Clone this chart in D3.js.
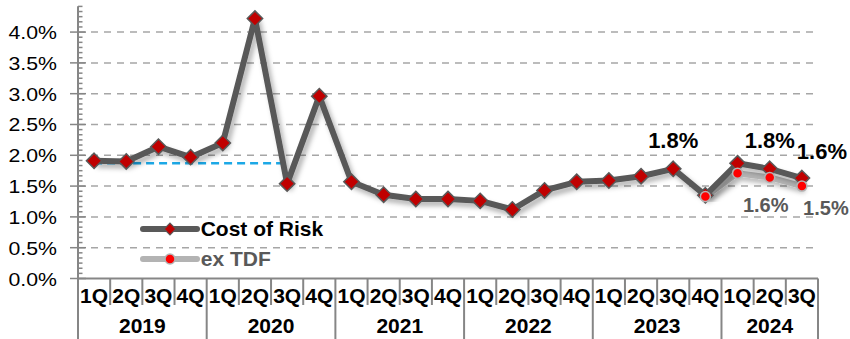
<!DOCTYPE html>
<html>
<head>
<meta charset="utf-8">
<script src="https://cdn.jsdelivr.net/npm/d3@7"></script>
<style>
  html, body { margin: 0; padding: 0; background: #fff; }
  svg { display: block; font-family: "Liberation Sans", Arial, sans-serif; }
</style>
</head>
<body>
<svg id="chart" width="850" height="339"></svg>
<script>
// Quarterly cost of risk (% of loans), with and without TDF
const years = ["2019", "2020", "2021", "2022", "2023", "2024"];
const quarters = ["1Q","2Q","3Q","4Q","1Q","2Q","3Q","4Q","1Q","2Q","3Q","4Q",
                  "1Q","2Q","3Q","4Q","1Q","2Q","3Q","4Q","1Q","2Q","3Q"];
const quarterYear = [0,0,0,0,1,1,1,1,2,2,2,2,3,3,3,3,4,4,4,4,5,5,5];
const costOfRisk = [1.91, 1.90, 2.14, 1.97, 2.20, 4.22, 1.54, 2.96,
                    1.57, 1.36, 1.29, 1.29, 1.26, 1.12, 1.43, 1.57,
                    1.59, 1.66, 1.78, 1.35, 1.87, 1.78, 1.63];
// ex TDF series only reported from 4Q 2023 (index 19)
const exTdfStart = 19;
const exTdf = [1.33, 1.71, 1.64, 1.50];
const yTicks = [0, 0.5, 1.0, 1.5, 2.0, 2.5, 3.0, 3.5, 4.0];
// pre-crisis average reference line, 1Q 2019 to 3Q 2020
const refLevel = 1.87, refFrom = 0, refTo = 6;
// labelled points: [index, text]
const corLabels = [[18, "1.8%"], [21, "1.8%"], [22, "1.6%"]];
const exLabels = [[21, "1.6%"], [22, "1.5%"]];

const svg = d3.select("#chart");
const plotLeft = 78, plotRight = 818, plotBottom = 278.5, plotTop = 6.2;

const x = d3.scaleBand().domain(d3.range(quarters.length)).range([plotLeft, plotRight]).padding(0);
const cx = i => x(i) + x.bandwidth() / 2;
const y = d3.scaleLinear().domain([0, 4.42]).range([plotBottom, plotTop]);

const defs = svg.append("defs");
const sh = defs.append("filter").attr("id", "shadow")
  .attr("x", "-10%").attr("y", "-10%").attr("width", "130%").attr("height", "130%");
sh.append("feDropShadow").attr("dx", 3).attr("dy", 4).attr("stdDeviation", 2.5)
  .attr("flood-color", "#000").attr("flood-opacity", 0.3);

function label(parent, px, py, str, o) {
  const g = parent.append("g").attr("transform", `translate(${px},${py}) scale(${o.sx || 1},1)`);
  return g.append("text").attr("x", 0).attr("y", 0).text(str)
    .attr("font-size", o.size).attr("font-weight", o.weight || "normal")
    .attr("fill", o.fill || "#000").attr("text-anchor", o.anchor || "middle");
}

// horizontal gridlines
svg.append("g").selectAll("line").data(yTicks.filter(d => d > 0)).join("line")
  .attr("x1", plotLeft).attr("x2", plotRight + 1)
  .attr("y1", d => y(d)).attr("y2", d => y(d))
  .attr("stroke", "#a6a6a6").attr("stroke-width", 1.5).attr("stroke-dasharray", "7,6");

// y axis with minor ticks
const axisG = svg.append("g").attr("stroke", "#868686");
axisG.append("line").attr("x1", plotLeft).attr("x2", plotLeft).attr("y1", plotTop).attr("y2", 339).attr("stroke-width", 2);
const minor = d3.range(0, 54).map(i => i * 0.5 / 6).filter(v => v <= 4.42);
axisG.selectAll("line.minor").data(minor).join("line").attr("class", "minor")
  .attr("x1", (d, i) => i % 6 === 0 ? 70 : plotLeft)
  .attr("x2", (d, i) => i % 6 === 0 ? 86 : 82.5)
  .attr("y1", d => y(d)).attr("y2", d => y(d)).attr("stroke-width", 1.5);

yTicks.forEach(t => label(svg, 57, y(t) + 7, t.toFixed(1) + "%", { size: 19, sx: 1.12, anchor: "end" }));

// x axis: baseline, quarter and year separators
axisG.append("line").attr("x1", plotLeft).attr("x2", plotRight).attr("y1", plotBottom).attr("y2", plotBottom).attr("stroke-width", 2);
d3.range(1, quarters.length + 1).forEach(i => {
  const isYear = i === quarters.length || quarterYear[i] !== quarterYear[i - 1];
  const xx = i === quarters.length ? plotRight : x(i);
  axisG.append("line").attr("x1", xx).attr("x2", xx).attr("y1", plotBottom)
    .attr("y2", isYear ? 339 : 305).attr("stroke-width", 2);
});
quarters.forEach((q, i) => label(svg, cx(i), 302.7, q, { size: 20, sx: 1.05, weight: "bold" }));
years.forEach((yr, k) => {
  const idx = quarterYear.map((v, i) => v === k ? i : -1).filter(i => i >= 0);
  const mid = (x(idx[0]) + x(idx[idx.length - 1]) + x.bandwidth()) / 2;
  label(svg, mid, 333, yr, { size: 21, weight: "bold" });
});

// reference dashed line
svg.append("line").attr("x1", cx(refFrom)).attr("x2", cx(refTo))
  .attr("y1", y(refLevel)).attr("y2", y(refLevel))
  .attr("stroke", "#1ca8e6").attr("stroke-width", 2.5).attr("stroke-dasharray", "8,5");

const line = d3.line().x(d => cx(d.i)).y(d => y(d.v));
const corPts = costOfRisk.map((v, i) => ({ i, v }));
const exPts = exTdf.map((v, k) => ({ i: exTdfStart + k, v }));

svg.append("path").datum(exPts).attr("d", line).attr("fill", "none")
  .attr("stroke", "#b3b3b3").attr("stroke-width", 6).attr("stroke-linejoin", "round")
  .attr("filter", "url(#shadow)");
svg.append("path").datum(corPts).attr("d", line).attr("fill", "none")
  .attr("stroke", "#595959").attr("stroke-width", 6).attr("stroke-linejoin", "round")
  .attr("filter", "url(#shadow)");

const diamond = d3.symbol().type(d3.symbolDiamond2).size(150);
svg.append("g").selectAll("path").data(corPts).join("path")
  .attr("d", diamond).attr("transform", d => `translate(${cx(d.i)},${y(d.v)})`)
  .attr("fill", "#c00000").attr("stroke", "#595959").attr("stroke-width", 1.5);
svg.append("g").selectAll("circle").data(exPts).join("circle")
  .attr("cx", d => cx(d.i)).attr("cy", d => y(d.v)).attr("r", 5)
  .attr("fill", "#ff0000").attr("stroke", "#b3b3b3").attr("stroke-width", 1.5);

// value labels
corLabels.forEach(([i, t]) => {
  const dx = i === quarters.length - 1 ? 20 : 0;
  const dy = i === quarters.length - 1 ? -19 : -21;
  label(svg, cx(i) + dx, y(costOfRisk[i]) + dy, t, { size: 22, weight: "bold" });
});
exLabels.forEach(([i, t]) => {
  const v = exTdf[i - exTdfStart];
  const dx = i === quarters.length - 1 ? 24 : -4;
  label(svg, cx(i) + dx, y(v) + (i === quarters.length - 1 ? 29 : 35), t,
        { size: 20, weight: "bold", fill: "#595959" });
});

// legend
const lg = svg.append("g");
lg.append("line").attr("x1", 143).attr("x2", 197).attr("y1", 229).attr("y2", 229)
  .attr("stroke", "#595959").attr("stroke-width", 6).attr("stroke-linecap", "round");
lg.append("path").attr("d", d3.symbol().type(d3.symbolDiamond2).size(90))
  .attr("transform", "translate(170,229)").attr("fill", "#c00000")
  .attr("stroke", "#595959").attr("stroke-width", 1.2);
label(lg, 200.7, 235.7, "Cost of Risk", { size: 20, sx: 1.05, weight: "bold", anchor: "start" });
lg.append("line").attr("x1", 143).attr("x2", 197).attr("y1", 259).attr("y2", 259)
  .attr("stroke", "#b3b3b3").attr("stroke-width", 6).attr("stroke-linecap", "round");
lg.append("circle").attr("cx", 170).attr("cy", 259).attr("r", 5)
  .attr("fill", "#ff0000").attr("stroke", "#b3b3b3").attr("stroke-width", 1.5);
label(lg, 200.7, 266, "ex TDF", { size: 21, weight: "bold", fill: "#595959", anchor: "start" });
</script>
</body>
</html>
